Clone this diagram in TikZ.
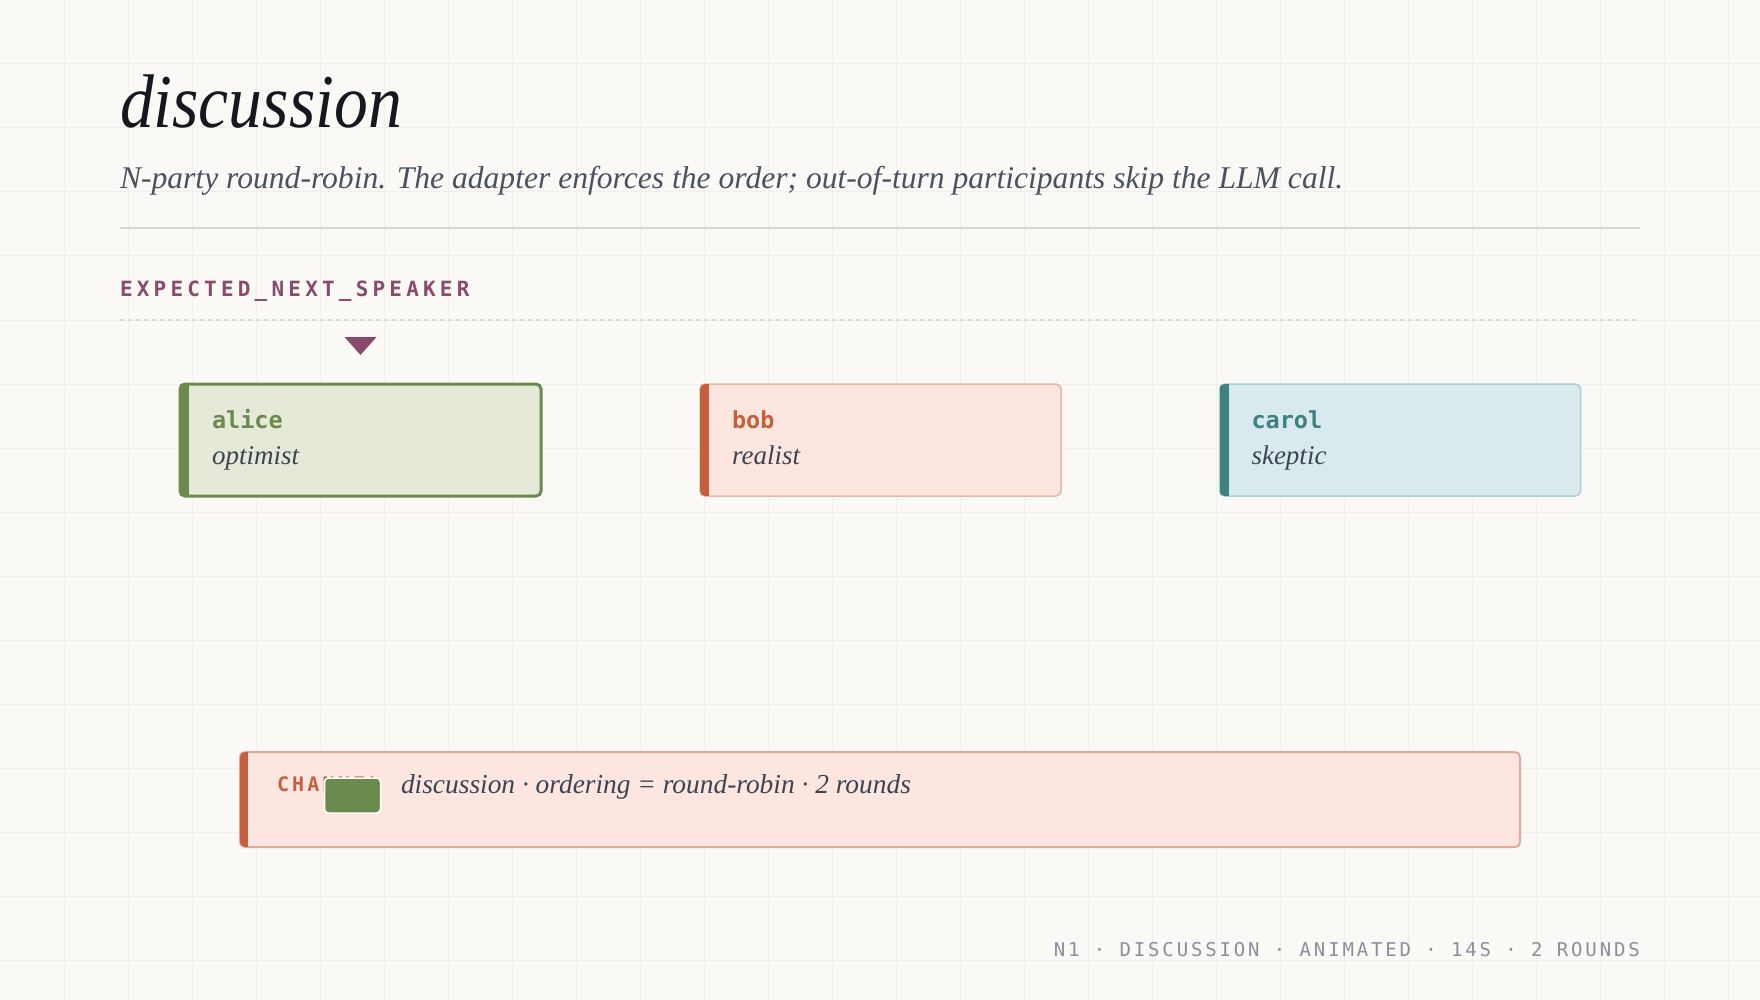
\documentclass[tikz,border=0pt]{standalone}
\usepackage{fontspec}
\setmainfont{Liberation Serif}
\newfontfamily\mono{DejaVu Sans Mono}
\newfontfamily\monoA[LetterSpace=20]{DejaVu Sans Mono}
\newfontfamily\monoB[LetterSpace=16]{DejaVu Sans Mono}
\newfontfamily\monoC[LetterSpace=15]{DejaVu Sans Mono}
\definecolor{bg}{HTML}{FAF9F6}
\definecolor{gridc}{HTML}{F0EFEB}
\definecolor{ink}{HTML}{15191F}
\definecolor{subc}{HTML}{4A5160}
\definecolor{plum}{HTML}{8B4A6B}
\definecolor{rulec}{HTML}{D6D6DA}
\definecolor{dashc}{HTML}{DADADE}
\definecolor{gr}{HTML}{6B8A50}
\definecolor{grfill}{HTML}{E4E9D8}
\definecolor{rd}{HTML}{C75F3E}
\definecolor{rdfill}{HTML}{FCE6DF}
\definecolor{rdline}{HTML}{EBB5A5}
\definecolor{chline}{HTML}{E3A996}
\definecolor{tl}{HTML}{3F8082}
\definecolor{tlfill}{HTML}{D9EAEE}
\definecolor{tlline}{HTML}{ABCFD5}
\definecolor{footc}{HTML}{8A8F9C}
\definecolor{rolec}{HTML}{3D4450}
\tikzset{
  card/.style={rounded corners=5pt, minimum width=361pt, minimum height=112pt, inner sep=0pt, outer sep=0pt},
  lbl/.style={anchor=base west, inner sep=0pt, outer sep=0pt},
  namefont/.style={font=\mono\bfseries\fontsize{23.5}{27}\selectfont},
  rolefont/.style={font=\itshape\fontsize{27}{30}\selectfont, text=rolec},
}
\begin{document}
\begin{tikzpicture}[x=1pt,y=-1pt]
\fill[bg] (0,0) rectangle (1760,1000);
\useasboundingbox (0,0) rectangle (1760,1000);
% grid
\foreach \gx in {64,128,...,1728} \draw[gridc, line width=1pt] (\gx,0) -- (\gx,1000);
\foreach \gy in {64,128,...,960} \draw[gridc, line width=1pt] (0,\gy) -- (1760,\gy);

% title & subtitle
\node[lbl, text=ink] (title) at (120,128) {\scalebox{0.89}[1]{\itshape\fontsize{76}{80}\selectfont discussion}};
\node[lbl, text=subc] (subtitle) at (120,189) {\itshape\fontsize{31.6}{36}\selectfont N-party round-robin. The adapter enforces the order; out-of-turn participants skip the LLM call.};
\draw[rulec, line width=1.5pt] (120,228) -- (1640,228);

% expected next speaker
\node[lbl, text=plum] (expected) at (120,296) {\monoA\bfseries\fontsize{21}{24}\selectfont EXPECTED\_NEXT\_SPEAKER};
\draw[dashc, line width=1.2pt, dash pattern=on 4pt off 4pt] (120,320) -- (1640,320);

% cards
\node[card, fill=grfill, draw=gr, line width=3pt] (alice) at (360.5,440) {};
\node[card, fill=rdfill, draw=rdline, line width=1.5pt] (bob) at (880.5,440) {};
\node[card, fill=tlfill, draw=tlline, line width=1.5pt] (carol) at (1400,440) {};
\foreach \c/\col in {alice/gr, bob/rd, carol/tl}{
  \begin{scope}
    \clip[rounded corners=5pt] (\c.north west) rectangle (\c.south east);
    \fill[\col] (\c.north west) rectangle ([xshift=9pt]\c.south west);
  \end{scope}
}
\node[lbl, namefont, text=gr] (aliceName) at ([shift={(32,44)}]alice.north west) {alice};
\node[lbl, rolefont] (aliceRole) at ([shift={(32,80)}]alice.north west) {optimist};
\node[lbl, namefont, text=rd] (bobName) at ([shift={(32,44)}]bob.north west) {bob};
\node[lbl, rolefont] (bobRole) at ([shift={(32,80)}]bob.north west) {realist};
\node[lbl, namefont, text=tl] (carolName) at ([shift={(32,44)}]carol.north west) {carol};
\node[lbl, rolefont] (carolRole) at ([shift={(32,80)}]carol.north west) {skeptic};

% pointer triangle
\fill[plum] ([shift={(-16,-47)}]alice.north) -- ([shift={(16,-47)}]alice.north) -- ([shift={(0,-29)}]alice.north) -- cycle;

% channel
\node[rounded corners=5pt, minimum width=1280pt, minimum height=95pt, inner sep=0pt, outer sep=0pt, fill=rdfill, draw=chline, line width=2pt] (channel) at (880,799.5) {};
\begin{scope}
  \clip[rounded corners=5pt] (channel.north west) rectangle (channel.south east);
  \fill[rd] (channel.north west) rectangle ([xshift=8pt]channel.south west);
\end{scope}
\node[lbl, text=rd] (chLabel) at ([shift={(37,39)}]channel.north west) {\monoB\bfseries\fontsize{20}{24}\selectfont CHANNEL};
\node[lbl, text=rolec] (chText) at ([shift={(161,41)}]channel.north west) {\itshape\fontsize{27.4}{32}\selectfont discussion · ordering = round-robin · 2 rounds};
\node[rounded corners=4pt, fill=gr, draw=white, line width=1.5pt, minimum width=56pt, minimum height=35pt, inner sep=0pt] (token) at (352.5,795.5) {};

% footer
\node[anchor=base east, inner sep=0pt, text=footc] (footer) at (1640,956) {\monoC\fontsize{19}{22}\selectfont N1 · DISCUSSION · ANIMATED · 14S · 2 ROUNDS};
\end{tikzpicture}
\end{document}
